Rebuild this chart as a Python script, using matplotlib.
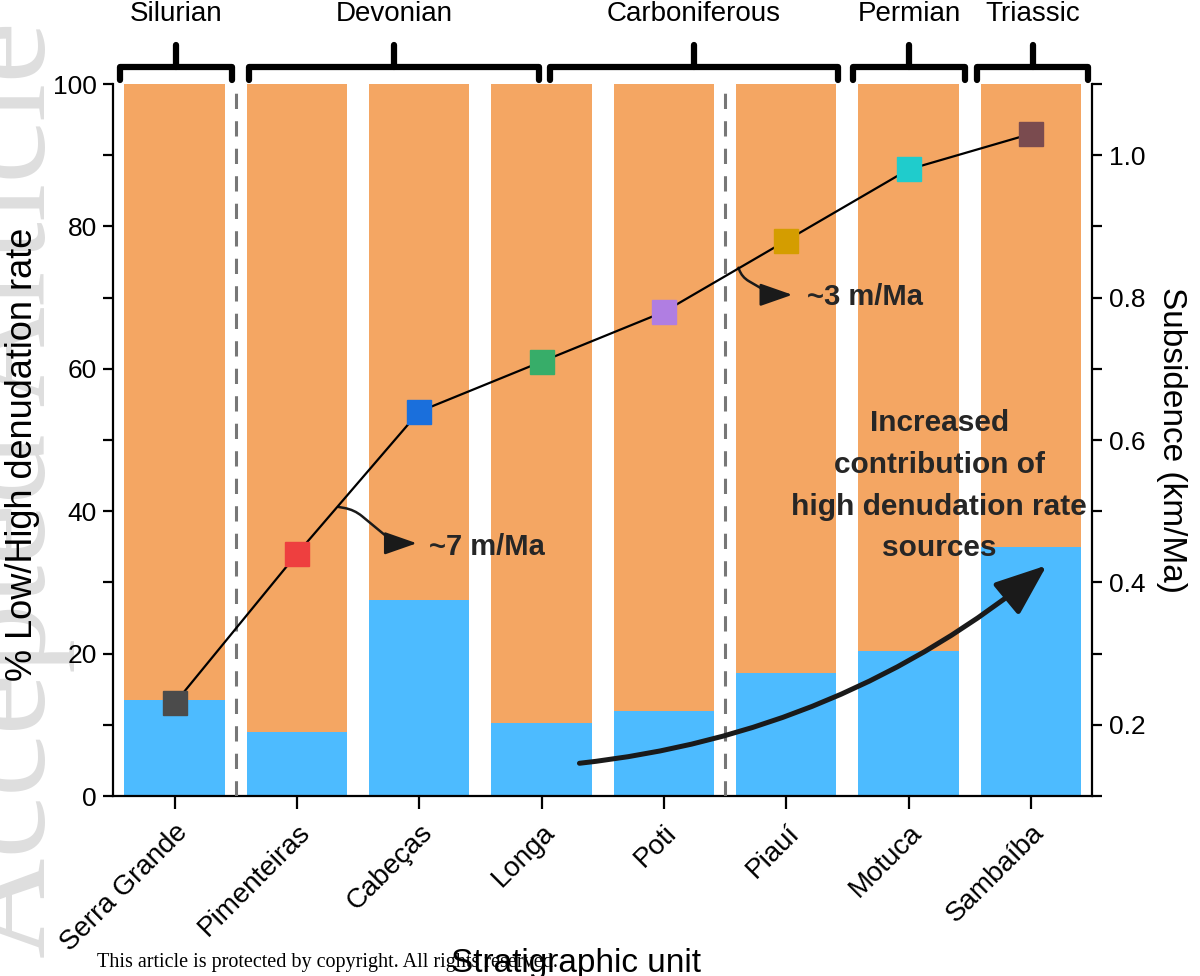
import matplotlib
matplotlib.use("Agg")
import matplotlib.pyplot as plt
from matplotlib.ticker import MultipleLocator
from matplotlib.transforms import ScaledTranslation

plt.rcParams['font.family'] = ['Liberation Sans', 'DejaVu Sans']

# data
units = ['Serra Grande', 'Pimenteiras', 'Cabeças', 'Longa', 'Poti', 'Piauí', 'Motuca', 'Sambaíba']
high_pct = [13.5, 9.0, 27.5, 10.3, 12.0, 17.3, 20.3, 35.0]   # blue, high denudation rate
low_pct = [100 - v for v in high_pct]                          # orange, low denudation rate
subsidence = [0.23, 0.44, 0.64, 0.71, 0.78, 0.88, 0.98, 1.03]  # km/Ma
marker_colors = ['#4b4b4b', '#ee3f3f', '#1a6fdc', '#37ad69', '#b07ee2', '#d49d00', '#1fcccc', '#7a4b4f']
periods = ['Silurian', 'Devonian', 'Carboniferous', 'Permian', 'Triassic']
period_spans = [(-0.45, 0.47), (0.61, 2.98), (3.07, 5.42), (5.55, 6.46), (6.56, 7.47)]
boundaries = [0.5, 4.5]

orange = '#F4A663'
blue = '#4DBBFF'

fig = plt.figure(figsize=(12, 9.76), dpi=100)
ax = fig.add_axes([0.0945, 0.1844, 0.8155, 0.7295])
x = list(range(len(units)))

ax.bar(x, high_pct, width=0.82, color=blue, zorder=2)
ax.bar(x, low_pct, width=0.82, bottom=high_pct, color=orange, zorder=2)
for b in boundaries:
    ax.plot([b, b], [0, 100], color='#777777', lw=2.2, ls=(0, (5, 4)), zorder=3)

ax.set_xlim(-0.5, 7.5)
ax.set_ylim(0, 100)
ax.set_xticks(x)
ax.set_xticklabels(units, rotation=45, ha='right', rotation_mode='anchor', fontsize=20)
shift = ScaledTranslation(6 / 72, -3 / 72, fig.dpi_scale_trans)
for lab in ax.get_xticklabels():
    lab.set_transform(lab.get_transform() + shift)
ax.yaxis.set_major_locator(MultipleLocator(20))
ax.yaxis.set_minor_locator(MultipleLocator(10))
ax.tick_params(axis='y', labelsize=19, length=7, width=1.6, pad=5, direction='out')
ax.tick_params(axis='y', which='minor', length=7, width=1.6)
ax.tick_params(axis='x', length=9, width=1.6, pad=8)
ax.set_ylabel('% Low/High denudation rate', fontsize=26, labelpad=9)
ax.yaxis.label.set_y(0.48)
ax.spines['top'].set_visible(False)
ax.spines['right'].set_visible(False)
for s in ['left', 'bottom']:
    ax.spines[s].set_linewidth(1.6)

# period brackets above the axes
for name, (a, b) in zip(periods, period_spans):
    mid = (a + b) / 2
    ax.plot([a, a, b, b], [100.6, 102.4, 102.4, 100.6], color='black', lw=4.5,
            solid_capstyle='round', solid_joinstyle='round', clip_on=False)
    ax.plot([mid, mid], [102.4, 105.5], color='black', lw=4.5, solid_capstyle='round', clip_on=False)
    ax.text(mid, 109.8, name, ha='center', va='center', fontsize=20, clip_on=False)

# subsidence on right axis
ax2 = ax.twinx()
ax2.plot(x, subsidence, color='black', lw=1.6, zorder=3)
for xi, yi, c in zip(x, subsidence, marker_colors):
    ax2.plot(xi, yi, marker='s', ms=17.5, color=c, mec=c, zorder=4)
ax2.set_ylim(0.1, 1.1)
ax2.yaxis.set_minor_locator(MultipleLocator(0.1))
ax2.set_yticks([0.2, 0.4, 0.6, 0.8, 1.0])
ax2.set_yticklabels(['0.2', '0.4', '0.6', '0.8', '1.0'])
ax2.tick_params(axis='y', labelsize=19, length=7, width=1.6, pad=5)
ax2.tick_params(axis='y', which='minor', length=7, width=1.6)
ax2.set_ylabel('Subsidence (km/Ma)', fontsize=24, rotation=270, labelpad=30)
ax2.spines['top'].set_visible(False)
ax2.spines['right'].set_linewidth(1.6)
ax2.spines['left'].set_visible(False)
ax2.spines['bottom'].set_visible(False)

# annotations
txt = '#262626'
small_head = '-|>,head_length=2.0,head_width=0.7'
ax.annotate('', xy=(1.98, 35.5), xytext=(1.34, 40.6),
            arrowprops=dict(arrowstyle=small_head, color='#1a1a1a', lw=1.8,
                            connectionstyle='arc,angleA=-10,angleB=180,armA=16,armB=22,rad=10',
                            shrinkA=0, shrinkB=0), zorder=5)
ax.text(2.08, 35.0, '~7 m/Ma', fontsize=21, fontweight='bold', color=txt, va='center', zorder=5)
ax.annotate('', xy=(5.05, 70.4), xytext=(4.61, 74.2),
            arrowprops=dict(arrowstyle=small_head, color='#1a1a1a', lw=1.8,
                            connectionstyle='arc,angleA=-70,angleB=180,armA=10,armB=20,rad=8',
                            shrinkA=0, shrinkB=0), zorder=5)
ax.text(5.17, 70.1, '~3 m/Ma', fontsize=21, fontweight='bold', color=txt, va='center', zorder=5)
ax.text(6.25, 43.6, 'Increased\ncontribution of\nhigh denudation rate\nsources', fontsize=21.5,
        fontweight='bold', color=txt, ha='center', va='center', linespacing=1.63, zorder=5)
ax.annotate('', xy=(7.13, 32.4), xytext=(3.31, 4.6),
            arrowprops=dict(arrowstyle='-|>,head_length=3.2,head_width=1.25', color='#1a1a1a',
                            lw=3.6, connectionstyle='arc3,rad=0.15', shrinkA=0, shrinkB=0), zorder=5)

# page furniture
fig.text(45 / 1200, 0.498, 'Accepted Article', rotation=90, rotation_mode='anchor', fontsize=100,
         family='Liberation Serif', color='#dedede', ha='center', va='baseline', zorder=-1)
fig.text(576 / 1200, 0.004, 'Stratigraphic unit', fontsize=24, ha='center', va='baseline')
fig.text(97 / 1200, 1 - 962 / 976, 'This article is protected by copyright. All rights reserved.',
         fontsize=14.5, family='Liberation Serif', ha='left', va='center')

fig.savefig('out.png', dpi=100)
